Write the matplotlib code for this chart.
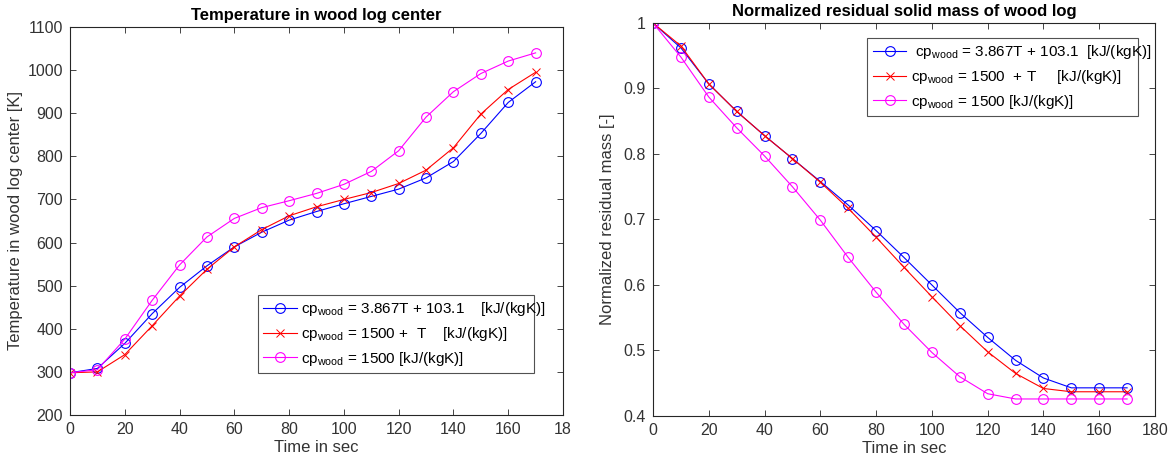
import matplotlib
matplotlib.use("Agg")
import matplotlib.pyplot as plt

plt.rcParams['font.family'] = ['Liberation Sans', 'DejaVu Sans']
plt.rcParams['mathtext.fontset'] = 'custom'
plt.rcParams['mathtext.rm'] = 'Liberation Sans'
plt.rcParams['mathtext.it'] = 'Liberation Sans'

time_s = [0, 10, 20, 30, 40, 50, 60, 70, 80, 90, 100, 110, 120, 130, 140, 150, 160, 170]

temp_blue = [298, 308, 366, 435, 496, 546, 590, 624, 652, 672, 690, 707, 724, 750, 788, 853, 925, 973]
temp_red = [298, 300, 340, 407, 476, 538, 590, 630, 662, 683, 700, 716, 737, 768, 820, 898, 955, 995]
temp_mag = [298, 305, 376, 466, 548, 613, 656, 681, 697, 714, 735, 765, 813, 891, 950, 992, 1021, 1040]

mass_blue = [1.0, 0.962, 0.907, 0.865, 0.828, 0.793, 0.758, 0.722, 0.683, 0.642, 0.600, 0.558, 0.520, 0.485, 0.458, 0.443, 0.443, 0.443]
mass_red = [1.0, 0.965, 0.907, 0.865, 0.828, 0.793, 0.757, 0.717, 0.673, 0.627, 0.582, 0.538, 0.498, 0.465, 0.442, 0.437, 0.437, 0.437]
mass_mag = [1.0, 0.948, 0.887, 0.840, 0.797, 0.750, 0.699, 0.642, 0.589, 0.540, 0.497, 0.460, 0.434, 0.426, 0.426, 0.426, 0.426, 0.426]

left_labels = [r'cp$_{\rm wood}$ = 3.867T + 103.1    [kJ/(kgK)]',
               r'cp$_{\rm wood}$ = 1500 +  T    [kJ/(kgK)]',
               r'cp$_{\rm wood}$ = 1500 [kJ/(kgK)]']
right_labels = [r' cp$_{\rm wood}$ = 3.867T + 103.1  [kJ/(kgK)]',
                r'cp$_{\rm wood}$ = 1500  + T     [kJ/(kgK)]',
                r'cp$_{\rm wood}$ = 1500 [kJ/(kgK)]']

xticks = [0, 20, 40, 60, 80, 100, 120, 140, 160, 180]
left_xticklabels = ['0', '20', '40', '60', '80', '100', '120', '140', '160', '18']
right_xticklabels = ['0', '20', '40', '60', '80', '100', '120', '140', '160', '180']
left_yticks = [200, 300, 400, 500, 600, 700, 800, 900, 1000, 1100]
right_yticks = [0.4, 0.5, 0.6, 0.7, 0.8, 0.9, 1.0]
right_yticklabels = ['0.4', '0.5', '0.6', '0.7', '0.8', '0.9', '1']

W, H = 1173, 468
fig = plt.figure(figsize=(W / 100, H / 100), dpi=100)
axL = fig.add_axes([70 / W, 1 - 415 / H, 493 / W, 388 / H])
axR = fig.add_axes([653 / W, 1 - 416 / H, 502 / W, 393 / H])

axis_col = '#262626'
text_col = '#333333'
lw = 0.8
ms = 7

def style(ax):
    for s in ax.spines.values():
        s.set_color(axis_col)
        s.set_linewidth(0.8)
    ax.tick_params(direction='in', top=True, right=True, length=4, width=0.6,
                   colors=axis_col, labelsize=11.5, labelcolor=text_col, pad=5)

def draw(ax, yb, yr, ym):
    hb, = ax.plot(time_s, yb, color='#0000ff', marker='o', mfc='none', ms=ms, lw=lw, mew=0.8)
    hr, = ax.plot(time_s, yr, color='#ff0000', marker='x', ms=6, lw=lw, mew=0.7)
    hm, = ax.plot(time_s, ym, color='#ff00ff', marker='o', mfc='none', ms=ms, lw=lw, mew=0.8)
    return [hb, hr, hm]

hL = draw(axL, temp_blue, temp_red, temp_mag)
axL.set_xlim(0, 180)
axL.set_ylim(200, 1100)
axL.set_xticks(xticks)
axL.set_xticklabels(left_xticklabels)
axL.set_yticks(left_yticks)
axL.set_xlabel('Time in sec', fontsize=12, color=text_col, labelpad=2)
axL.set_ylabel('Temperature in wood log center [K]', fontsize=12, color=text_col, labelpad=3)
axL.set_title('Temperature in wood log center', fontsize=12, fontweight='bold', pad=5)
style(axL)
legL = axL.legend(hL, left_labels, loc='lower left',
                  bbox_to_anchor=(0.381, 0.108, 0.560, 0.229), mode='expand',
                  fontsize=11, frameon=True, fancybox=False, edgecolor='#262626',
                  handlelength=2.2, handletextpad=0.3, borderpad=0.35, labelspacing=0.45,
                  borderaxespad=0)
legL.get_frame().set_linewidth(0.8)

hR = draw(axR, mass_blue, mass_red, mass_mag)
axR.set_xlim(0, 180)
axR.set_ylim(0.4, 1.0)
axR.set_xticks(xticks)
axR.set_xticklabels(right_xticklabels)
axR.set_yticks(right_yticks)
axR.set_yticklabels(right_yticklabels)
axR.set_xlabel('Time in sec', fontsize=12, color=text_col, labelpad=2)
axR.set_ylabel('Normalized residual mass [-]', fontsize=12, color=text_col, labelpad=6)
axR.set_title('Normalized residual solid mass of wood log', fontsize=12, fontweight='bold', pad=5)
style(axR)
legR = axR.legend(hR, right_labels, loc='lower left',
                  bbox_to_anchor=(0.427, 0.763, 0.54, 0.196), mode='expand',
                  fontsize=11, frameon=True, fancybox=False, edgecolor='#262626',
                  handlelength=2.2, handletextpad=0.3, borderpad=0.35, labelspacing=0.45,
                  borderaxespad=0)
legR.get_frame().set_linewidth(0.8)

fig.savefig('out.png', dpi=100, facecolor='white')
